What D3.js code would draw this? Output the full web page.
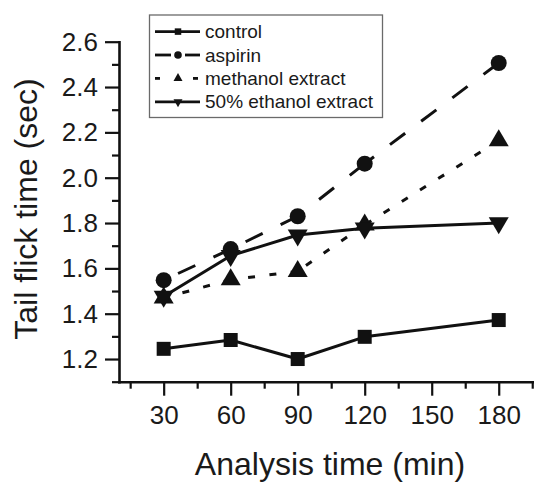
<!DOCTYPE html>
<html><head><meta charset="utf-8">
<script src="https://cdn.jsdelivr.net/npm/d3@7"></script>
<style>
body{margin:0;background:#fff}
svg{display:block}
text{font-family:"Liberation Sans",Arial,Helvetica,sans-serif;fill:#1a1a1a}
</style>
</head><body>
<svg id="c" width="534" height="482"></svg>
<script>
// ---- data ----
const times = [30, 60, 90, 120, 180];
const control = [1.245, 1.284, 1.2, 1.298, 1.372];
const aspirin = [1.548, 1.685, 1.83, 2.062, 2.506];
const methanol = [1.47, 1.55, 1.587, 1.792, 2.164];
const ethanol = [1.476, 1.656, 1.747, 1.777, 1.80];
const seriesNames = ["control", "aspirin", "methanol extract", "50% ethanol extract"];
const xMajorTicks = [30, 60, 90, 120, 150, 180];
const xMinorTicks = [15, 45, 75, 105, 135, 165, 195];
const yMajorTicks = [1.2, 1.4, 1.6, 1.8, 2.0, 2.2, 2.4, 2.6];
const yMinorTicks = [1.1, 1.3, 1.5, 1.7, 1.9, 2.1, 2.3, 2.5];
const xTitle = "Analysis time (min)";
const yTitle = "Tail flick time (sec)";

// ---- layout ----
const svg = d3.select("#c");
const ink = "#111";
const x = d3.scaleLinear().domain([10, 200]).range([119, 543.4]);
const y = d3.scaleLinear().domain([1.1, 2.6]).range([381.7, 41.7]);

// marker path generators (centred on centroid)
const markers = {
  square: s => `M${-s/2},${-s/2}h${s}v${s}h${-s}Z`,
  circle: r => `M${-r},0a${r},${r} 0 1,0 ${2*r},0a${r},${r} 0 1,0 ${-2*r},0Z`,
  up: (w, h) => `M0,${-2*h/3}L${w/2},${h/3}L${-w/2},${h/3}Z`,
  down: (w, h) => `M0,${2*h/3}L${w/2},${-h/3}L${-w/2},${-h/3}Z`
};

const series = [
  {name: seriesNames[0], values: control, dash: null, mk: markers.square(14), lmk: markers.square(6.5)},
  {name: seriesNames[1], values: aspirin, dash: "19,20", mk: markers.circle(8), lmk: markers.circle(3.8)},
  {name: seriesNames[2], values: methanol, dash: "7,14.5", mk: markers.up(20, 17), lmk: markers.up(9, 8)},
  {name: seriesNames[3], values: ethanol, dash: null, mk: markers.down(20, 17), lmk: markers.down(9, 8)}
];

// ---- axes ----
const gx = svg.append("g").attr("transform", `translate(0,${y(1.1)})`);
gx.call(d3.axisBottom(x).tickValues(xMajorTicks).tickSize(14).tickPadding(10).tickSizeOuter(0).tickFormat(d3.format("d")));
const gxm = svg.append("g").attr("transform", `translate(0,${y(1.1)})`);
gxm.call(d3.axisBottom(x).tickValues(xMinorTicks).tickSize(7).tickSizeOuter(0).tickFormat(""));
gxm.select(".domain").remove();

const gy = svg.append("g").attr("transform", `translate(${x(10)},0)`);
gy.call(d3.axisLeft(y).tickValues(yMajorTicks).tickSize(14).tickPadding(7).tickSizeOuter(0).tickFormat(d3.format(".1f")));
const gym = svg.append("g").attr("transform", `translate(${x(10)},0)`);
gym.call(d3.axisLeft(y).tickValues(yMinorTicks).tickSize(7).tickSizeOuter(0).tickFormat(""));
gym.select(".domain").remove();

svg.selectAll(".domain").attr("stroke", ink).attr("stroke-width", 2.6).attr("stroke-linecap", "square");
svg.selectAll(".tick line").attr("stroke", ink).attr("stroke-width", 2.2);
svg.selectAll(".tick text").attr("font-size", 26).attr("font-family", '"Liberation Sans",Arial,sans-serif').attr("fill", "#1a1a1a");

// ---- axis titles ----
svg.append("text").attr("x", 330).attr("y", 475).attr("text-anchor", "middle")
  .attr("font-size", 32).text(xTitle);
svg.append("text").attr("transform", "translate(36.5,209) rotate(-90)").attr("text-anchor", "middle")
  .attr("font-size", 32).text(yTitle);

// ---- series ----
series.forEach(s => {
  const pts = times.map((t, i) => [x(t), y(s.values[i])]);
  const g = svg.append("g");
  if (s.dash) {
    // each segment's dash pattern starts at its end point
    for (let i = 0; i < pts.length - 1; i++) {
      g.append("path").attr("d", d3.line()([pts[i + 1], pts[i]]))
        .attr("fill", "none").attr("stroke", ink).attr("stroke-width", 3)
        .attr("stroke-dasharray", s.dash);
    }
  } else {
    g.append("path").attr("d", d3.line()(pts))
      .attr("fill", "none").attr("stroke", ink).attr("stroke-width", 3).attr("stroke-linejoin", "round");
  }
  g.selectAll(".m").data(pts).join("path")
    .attr("transform", p => `translate(${p[0]},${p[1]})`)
    .attr("d", s.mk).attr("fill", ink);
});

// ---- legend ----
const lg = svg.append("g");
lg.append("rect").attr("x", 149.5).attr("y", 15).attr("width", 233).attr("height", 102.5)
  .attr("fill", "#fff").attr("stroke", "#6a6a6a").attr("stroke-width", 1.3);
series.forEach((s, i) => {
  const ry = 31.6 + i * 23.4;
  const row = lg.append("g").attr("transform", `translate(0,${ry})`);
  if (s.dash === null) {
    row.append("line").attr("x1", 155).attr("x2", 200).attr("y1", 0).attr("y2", 0)
      .attr("stroke", ink).attr("stroke-width", 2.8);
  } else if (i === 1) {
    [[155, 171], [185, 200]].forEach(sg => row.append("line").attr("x1", sg[0]).attr("x2", sg[1])
      .attr("stroke", ink).attr("stroke-width", 2.8));
  } else {
    [[155, 160], [193, 198]].forEach(sg => row.append("line").attr("x1", sg[0]).attr("x2", sg[1])
      .attr("stroke", ink).attr("stroke-width", 2.8));
  }
  row.append("path").attr("transform", "translate(178,0)").attr("d", s.lmk).attr("fill", ink);
  row.append("text").attr("x", 205).attr("y", 6.5).attr("font-size", 19).text(s.name);
});
</script>
</body></html>
